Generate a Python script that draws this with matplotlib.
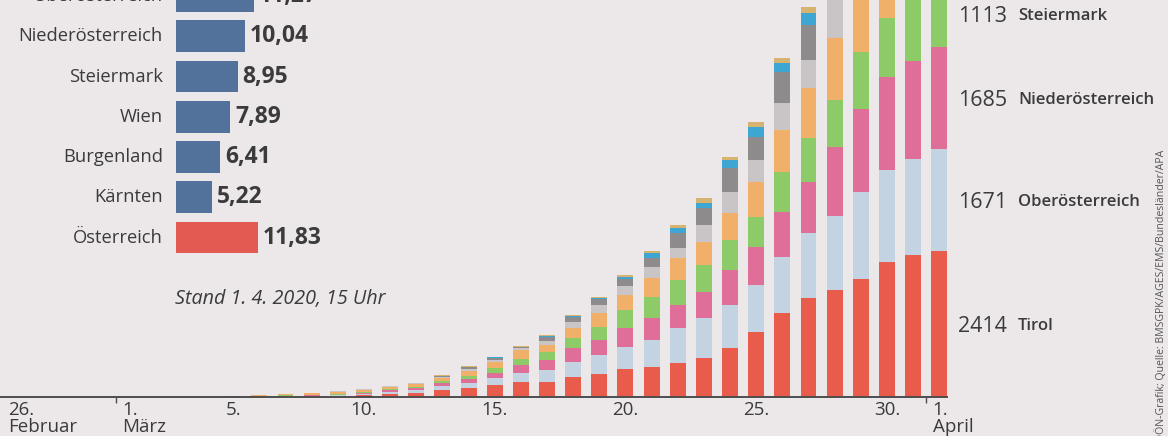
import numpy as np
import pandas as pd
import matplotlib
matplotlib.use("Agg")
import matplotlib.pyplot as plt
import matplotlib.transforms as mtransforms

plt.rcParams['font.family'] = ['Open Sans', 'DejaVu Sans']

# ---------------- data ----------------
# left chart: cases per 1000 inhabitants
rate_states = ["Oberösterreich", "Niederösterreich", "Steiermark", "Wien",
               "Burgenland", "Kärnten", "Österreich"]
rate_values = [11.27, 10.04, 8.95, 7.89, 6.41, 5.22, 11.83]

# right chart: cumulative cases by state, 5 March - 1 April 2020
dates = pd.date_range("2020-03-05", "2020-04-01", freq="D")
start_date = pd.Timestamp("2020-02-26")

tirol = [3, 5, 8, 10, 17, 33, 50, 66, 116, 149, 198, 248, 250, 330, 380, 462, 495,
         561, 644, 809, 1073, 1386, 1634, 1766, 1947, 2228, 2343, 2414]
oberoesterreich = [2, 4, 5, 8, 12, 17, 33, 50, 66, 83, 116, 149, 198, 248, 314, 363,
                   446, 578, 660, 710, 776, 924, 1073, 1221, 1436, 1518, 1584, 1671]
niederoesterreich = [4, 6, 8, 10, 12, 17, 25, 33, 50, 66, 83, 132, 165, 231, 248, 314,
                     363, 380, 429, 578, 627, 743, 842, 1139, 1370, 1535, 1617, 1685]
steiermark = [1, 2, 4, 5, 8, 12, 17, 17, 33, 50, 83, 99, 132, 165, 215, 297, 347, 413,
              446, 495, 495, 660, 726, 776, 941, 974, 1050, 1113]
wien = [6, 12, 18, 25, 35, 41, 41, 50, 50, 83, 99, 149, 116, 165, 231, 248, 314, 363,
        380, 446, 578, 693, 825, 1023, 1300, 1450, 1510, 1560]
vorarlberg = [1, 2, 3, 4, 7, 6, 8, 9, 17, 33, 33, 25, 66, 99, 132, 149, 182, 165, 281,
              347, 363, 446, 462, 660, 700, 760, 800, 830]
salzburg = [0, 1, 2, 3, 6, 4, 7, 8, 16, 33, 33, 16, 66, 83, 99, 116, 149, 248, 281,
            396, 380, 512, 578, 720, 800, 880, 950, 1000]
kaernten = [0, 0, 0, 0, 0, 2, 3, 4, 5, 6, 8, 10, 12, 14, 17, 33, 83, 83, 83, 132, 165,
            149, 198, 230, 250, 265, 280, 290]
burgenland = [0, 0, 0, 0, 0, 0, 0, 2, 3, 4, 5, 6, 17, 17, 16, 33, 33, 50, 83, 50, 83,
              83, 99, 150, 160, 170, 180, 190]

series_names = ["Tirol", "Oberösterreich", "Niederösterreich", "Steiermark", "Wien",
                "Vorarlberg", "Salzburg", "Kärnten", "Burgenland"]
series = [tirol, oberoesterreich, niederoesterreich, steiermark, wien,
          vorarlberg, salzburg, kaernten, burgenland]
series_colors = ["#e95b4a", "#c3d3e1", "#df6e98", "#8ccb68", "#f0b06a",
                 "#c9c5c6", "#8d8b8c", "#3ea6d3", "#d6b36e"]

labelled = ["Tirol", "Oberösterreich", "Niederösterreich", "Steiermark"]

tick_days = ["2020-03-05", "2020-03-10", "2020-03-15", "2020-03-20", "2020-03-25", "2020-03-30"]
tick_texts = ["5.", "10.", "15.", "20.", "25.", "30."]
month_labels = [("2020-02-26", "26.\nFebruar"), ("2020-03-01", "1.\nMärz"),
                ("2020-04-01", "1.\nApril")]

# ---------------- style ----------------
BG = "#ece7e8"
TXT = "#3b3b3b"
W, H = 1168, 436

fig = plt.figure(figsize=(W / 100, H / 100), dpi=100, facecolor=BG)

# ---------- right: stacked bars ----------
px_per_day = 26.15
x0_px = 24.0
right_px = 947.0
base_px = 397.0
px_per_case = 0.0606

axR = fig.add_axes([0, 1 - base_px / H, right_px / W, base_px / H])
axR.set_facecolor("none")
days = np.array([(d - start_date).days for d in dates])
data = np.array(series, dtype=float)
bottoms = np.vstack([np.zeros(data.shape[1]), np.cumsum(data, axis=0)[:-1]])
for name, vals, bot, col in zip(series_names, data, bottoms, series_colors):
    axR.bar(days, vals, bottom=bot, width=0.61, color=col, linewidth=0)

axR.set_xlim(-x0_px / px_per_day, (right_px - x0_px) / px_per_day)
axR.set_ylim(0, base_px / px_per_case)
for s in ["top", "right", "left"]:
    axR.spines[s].set_visible(False)
axR.spines["bottom"].set_color("#4d4d4d")
axR.spines["bottom"].set_linewidth(1.4)
axR.set_yticks([])
tick_pos = [(pd.Timestamp(d) - start_date).days for d in tick_days]
axR.set_xticks(tick_pos)
axR.set_xticklabels(tick_texts, fontsize=13.5, color=TXT)
axR.tick_params(axis="x", length=0, pad=3)
month_pos = [(pd.Timestamp(d) - start_date).days for d, _ in month_labels]
axR.set_xticks([month_pos[1] - 0.5, month_pos[2] - 0.5], minor=True)
axR.tick_params(axis="x", which="minor", length=4, width=1, color="#4d4d4d", direction="out")

trans = mtransforms.blended_transform_factory(axR.transData, axR.transAxes)
for (d, lab), p in zip(month_labels, month_pos):
    off = -0.62 if p == 0 else -0.25
    axR.text(p + off, -0.011, lab, transform=trans, ha="left", va="top",
             fontsize=13.5, color=TXT, linespacing=0.92, clip_on=False)

# labels for the last bar
last_vals = data[:, -1]
last_bot = bottoms[:, -1]
for name, v, b in zip(series_names, last_vals, last_bot):
    if name in labelled:
        ymid = b + v / 2
        axR.annotate(f"{int(v)}", xy=(days[-1] + 0.305, ymid), xytext=(8, 0),
                     textcoords="offset points", ha="left", va="center_baseline",
                     fontsize=15.5, color=TXT, annotation_clip=False)
        axR.annotate(name, xy=(days[-1] + 0.305, ymid), xytext=(51, 0),
                     textcoords="offset points", ha="left", va="center_baseline",
                     fontsize=12, fontweight="semibold", color=TXT,
                     annotation_clip=False)

# ---------- left: horizontal bars ----------
row_px = 40.25
first_row_px = -4.0
bar_origin_px = 176.0
px_per_unit = 6.9
axL_width_px = 220.0
top_px = first_row_px - row_px / 2
height_px = row_px * len(rate_states)
axL = fig.add_axes([bar_origin_px / W, 1 - (top_px + height_px) / H,
                    axL_width_px / W, height_px / H])
axL.set_facecolor("none")
axL.set_xlim(0, axL_width_px / px_per_unit)
axL.set_ylim(len(rate_states) - 0.5, -0.5)
axL.axis("off")
ypos = np.arange(len(rate_states))
bar_colors = ["#52719b"] * (len(rate_states) - 1) + ["#e35a52"]
axL.barh(ypos, rate_values, height=0.795, color=bar_colors, linewidth=0)
for y, name, v in zip(ypos, rate_states, rate_values):
    axL.annotate(name, xy=(0, y), xytext=(-9.4, 0), textcoords="offset points",
                 ha="right", va="center", fontsize=13.2, color=TXT,
                 annotation_clip=False)
    axL.annotate(f"{v:.2f}".replace(".", ","), xy=(v, y), xytext=(3.5, 0),
                 textcoords="offset points", ha="left", va="center",
                 fontsize=16.5, fontweight="bold", color=TXT, annotation_clip=False)

fig.text(175 / W, 1 - 299 / H, "Stand 1. 4. 2020, 15 Uhr", fontsize=14.2,
         style="italic", color=TXT, ha="left", va="center")

fig.text(1161 / W, 1 - 442 / H,
         "OÖN-Grafik; Quelle: BMSGPK/AGES/EMS/Bundesländer/APA",
         rotation=90, fontsize=7.6, color="#555555", ha="center", va="bottom")

fig.savefig("out.png", dpi=100, facecolor=BG)
